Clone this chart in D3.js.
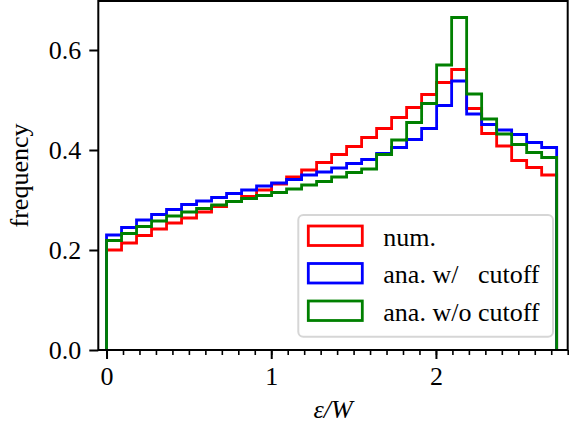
<!DOCTYPE html>
<html>
<head>
<meta charset="utf-8">
<script src="https://cdn.jsdelivr.net/npm/d3@7"></script>
<style>
  body { margin: 0; background: #fff; }
  text { font-family: "Liberation Serif", "Times New Roman", serif; fill: #000; }
</style>
</head>
<body>
<div id="chart"></div>
<script>
// histogram bins: 30 equal bins from 0 to the data maximum
const binStart = 0;
const binEnd = 2.733;

const numValues = [0.200, 0.214, 0.229, 0.242, 0.254, 0.264, 0.276, 0.287, 0.297, 0.307,
  0.320, 0.332, 0.346, 0.360, 0.375, 0.391, 0.407, 0.425, 0.443, 0.465,
  0.485, 0.511, 0.535, 0.561, 0.483, 0.433, 0.408, 0.379, 0.365, 0.350];
const anaCutValues = [0.230, 0.245, 0.260, 0.271, 0.281, 0.291, 0.298, 0.305, 0.313, 0.320,
  0.328, 0.334, 0.341, 0.350, 0.356, 0.364, 0.373, 0.381, 0.393, 0.405,
  0.421, 0.443, 0.489, 0.538, 0.472, 0.451, 0.440, 0.431, 0.415, 0.405];
const anaNoCutValues = [0.219, 0.233, 0.247, 0.258, 0.268, 0.276, 0.283, 0.290, 0.297, 0.303,
  0.309, 0.315, 0.322, 0.330, 0.337, 0.346, 0.355, 0.362, 0.391, 0.420,
  0.455, 0.493, 0.570, 0.665, 0.512, 0.462, 0.432, 0.411, 0.395, 0.385];

const seriesNames = ["num.", "ana. w/   cutoff", "ana. w/o cutoff"];
const seriesColors = ["#ff0000", "#0000ff", "#008000"];
const xTicks = [0, 1, 2];
const yTicks = [0.0, 0.2, 0.4, 0.6];

const width = 579, height = 430;
const plotLeft = 98.3, plotRight = 567.7, plotTop = 1, plotBottom = 350;

const svg = d3.select("#chart").append("svg")
  .attr("width", width)
  .attr("height", height);

const x = d3.scaleLinear().domain([-0.05, 2.8]).range([plotLeft, plotRight]);
const y = d3.scaleLinear().domain([0, 0.698]).range([plotBottom, plotTop]);

const nBins = numValues.length;
const binW = (binEnd - binStart) / nBins;

// step outline like matplotlib histtype="step"
function stepPoints(vals) {
  const pts = [[binStart, 0]];
  vals.forEach(function (v, i) {
    pts.push([binStart + i * binW, v]);
    pts.push([binStart + (i + 1) * binW, v]);
  });
  pts.push([binEnd, 0]);
  return pts;
}

const line = d3.line()
  .x(function (d) { return x(d[0]); })
  .y(function (d) { return y(d[1]); });

const plot = svg.append("g");
[numValues, anaCutValues, anaNoCutValues].forEach(function (vals, i) {
  plot.append("path")
    .attr("d", line(stepPoints(vals)))
    .attr("fill", "none")
    .attr("stroke", seriesColors[i])
    .attr("stroke-width", 2.8)
    .attr("stroke-linejoin", "miter");
});

// x axis: minor ticks every 0.1, then labelled majors
const xMinor = svg.append("g").attr("transform", "translate(0," + plotBottom + ")");
xMinor.call(d3.axisBottom(x).tickValues(d3.range(0, 2.81, 0.1)).tickSize(5).tickFormat(""));
xMinor.select(".domain").remove();
xMinor.selectAll(".tick line").attr("stroke-width", 1.6);

const xMajor = svg.append("g").attr("transform", "translate(0," + plotBottom + ")");
xMajor.call(d3.axisBottom(x).tickValues(xTicks).tickSize(9).tickPadding(8).tickFormat(d3.format("d")));
xMajor.select(".domain").remove();
xMajor.selectAll(".tick line").attr("stroke-width", 2);
xMajor.selectAll(".tick text")
  .attr("font-size", 26)
  .attr("fill", "#000");

const yAxis = svg.append("g").attr("transform", "translate(" + plotLeft + ",0)");
yAxis.call(d3.axisLeft(y).tickValues(yTicks).tickSize(9).tickPadding(8).tickFormat(d3.format(".1f")));
yAxis.select(".domain").remove();
yAxis.selectAll(".tick line").attr("stroke-width", 2);
yAxis.selectAll(".tick text")
  .attr("font-size", 26)
  .attr("fill", "#000");

// frame
svg.append("rect")
  .attr("x", plotLeft).attr("y", plotTop)
  .attr("width", plotRight - plotLeft).attr("height", plotBottom - plotTop)
  .attr("fill", "none").attr("stroke", "#000").attr("stroke-width", 2);

// axis labels
svg.append("text")
  .attr("x", (plotLeft + plotRight) / 2).attr("y", 418)
  .attr("text-anchor", "middle")
  .attr("font-size", 26)
  .attr("font-style", "italic")
  .text("ε/W");

svg.append("text")
  .attr("transform", "translate(28," + (plotTop + plotBottom) / 2 + ") rotate(-90)")
  .attr("text-anchor", "middle")
  .attr("font-size", 26)
  .text("frequency");

// legend
const legend = svg.append("g");
legend.append("rect")
  .attr("x", 298.3).attr("y", 215)
  .attr("width", 254.7).attr("height", 121.7)
  .attr("rx", 5).attr("ry", 5)
  .attr("fill", "#fff").attr("fill-opacity", 0.8)
  .attr("stroke", "#d6d6d6").attr("stroke-width", 2);

seriesNames.forEach(function (name, i) {
  const rowY = 226 + i * 37.5;
  legend.append("rect")
    .attr("x", 308.3).attr("y", rowY)
    .attr("width", 54).attr("height", 19.5)
    .attr("fill", "none")
    .attr("stroke", seriesColors[i])
    .attr("stroke-width", 2.8);
  legend.append("text")
    .attr("x", 383.3).attr("y", rowY + 19.5)
    .attr("font-size", 26)
    .style("white-space", "pre")
    .attr("xml:space", "preserve")
    .text(name);
});
</script>
</body>
</html>
